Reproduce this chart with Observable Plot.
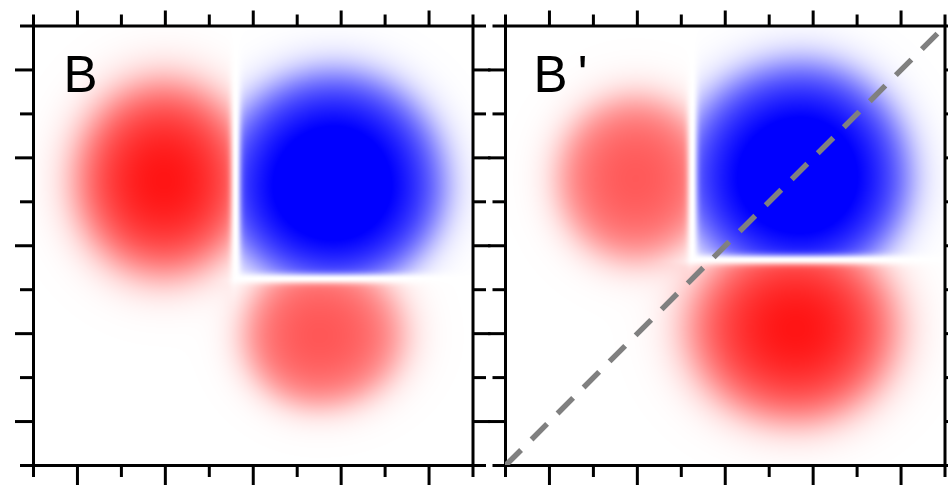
<!DOCTYPE html>
<html>
<head>
<meta charset="utf-8">
<script src="https://cdn.jsdelivr.net/npm/d3@7"></script>
<script src="https://cdn.jsdelivr.net/npm/@observablehq/plot@0.6"></script>
<style>
  html, body { margin: 0; padding: 0; background: #fff; overflow: hidden; }
  #chart { position: relative; width: 948px; height: 485px; }
  .panel { position: absolute; top: 0; }
</style>
</head>
<body>
<div id="chart"></div>
<script>
// Panel titles and the split lines (vertical x, horizontal y) of each panel
const panelTitles = ["B", "B\u2009'"];
const splitX = [4.6, 4.25];
const splitY = [4.25, 4.68];

// Field lobes: panel index, peak value, peak position, radii to each side,
// core falloff, edge softness, and which side of each split line it lives on
const lobePanel  = [0, 0, 0, 1, 1, 1];
const lobeAmp    = [0.92, -1.2, 0.66, 0.65, -1.2, 0.92];
const lobeX      = [2.96, 6.83, 6.50, 2.96, 6.71, 6.60];
const lobeY      = [6.47, 6.36, 2.95, 6.52, 6.55, 3.11];
const lobeLeft   = [2.10, 2.75, 1.75, 1.80, 2.85, 2.55];
const lobeRight  = [2.10, 2.62, 1.95, 1.80, 2.58, 2.40];
const lobeBottom = [2.25, 2.45, 1.65, 1.90, 2.52, 2.22];
const lobeTop    = [2.35, 2.70, 1.80, 1.90, 2.72, 2.25];
const lobeCore   = [0.50, 0.70, 0.35, 0.35, 0.70, 0.55];
const lobeEdge   = [0.14, 0.10, 0.14, 0.14, 0.10, 0.13];
const lobeSideX  = [-1, 1, 0, -1, 1, 0];
const lobeSideY  = [0, 1, -1, 0, 1, -1];

// Axis ticks and the reference diagonal
const tickValues = [0, 1, 2, 3, 4, 5, 6, 7, 8, 9, 10];
const diagonal = [[0, 0], [10, 10]];

const splitWidth = 0.12;

function sideMask(d) {
  if (d <= 0) return 0;
  const t = d / splitWidth;
  return 1 - Math.exp(-(t * t));
}

function field(p) {
  return (x, y) => {
    let v = 0;
    for (let i = 0; i < lobeAmp.length; ++i) {
      if (lobePanel[i] !== p) continue;
      const dx = x - lobeX[i], dy = y - lobeY[i];
      const u = dx / (dx < 0 ? lobeLeft[i] : lobeRight[i]);
      const w = dy / (dy < 0 ? lobeBottom[i] : lobeTop[i]);
      const rho = Math.hypot(u, w);
      const core = Math.exp(-lobeCore[i] * rho * rho);
      const edge = 1 / (1 + Math.exp((rho - 1) / lobeEdge[i]));
      let mask = 1;
      if (lobeSideX[i]) mask *= sideMask(lobeSideX[i] * (x - splitX[p]));
      if (lobeSideY[i]) mask *= sideMask(lobeSideY[i] * (y - splitY[p]));
      v += lobeAmp[i] * core * edge * mask;
    }
    return v;
  };
}

const evenTicks = tickValues.filter((t) => t % 2 === 0);
const oddTicks = tickValues.filter((t) => t % 2 === 1);

function axes(sizes) {
  const common = {fill: "none", label: null, stroke: "#000", strokeWidth: 3};
  return [
    Plot.axisX({...common, anchor: "top", ticks: evenTicks, tickSize: sizes.top[0]}),
    Plot.axisX({...common, anchor: "top", ticks: oddTicks, tickSize: sizes.top[1]}),
    Plot.axisX({...common, anchor: "bottom", ticks: evenTicks, tickSize: sizes.bottom[0]}),
    Plot.axisX({...common, anchor: "bottom", ticks: oddTicks, tickSize: sizes.bottom[1]}),
    Plot.axisY({...common, anchor: "left", ticks: evenTicks, tickSize: sizes.left[0]}),
    Plot.axisY({...common, anchor: "left", ticks: oddTicks, tickSize: sizes.left[1]}),
    Plot.axisY({...common, anchor: "right", ticks: evenTicks, tickSize: sizes.right[0]}),
    Plot.axisY({...common, anchor: "right", ticks: oddTicks, tickSize: sizes.right[1]})
  ];
}

function panel(p, {width, marginLeft, marginRight, left, sizes, dx}) {
  const marks = [
    Plot.raster({fill: field(p), x1: 0, x2: 10, y1: 0, y2: 10}),
    Plot.frame({stroke: "#000", strokeWidth: 3}),
    ...axes(sizes)
  ];
  if (p === 1) {
    marks.push(Plot.line(diagonal, {
      stroke: "#808080", strokeWidth: 5.5, strokeDasharray: "22,14.8",
      strokeLinecap: "butt", clip: true
    }));
  }
  marks.push(Plot.text([panelTitles[p]], {
    text: (d) => d, frameAnchor: "top-left", dx, dy: 30,
    fontSize: 51, fontFamily: "Liberation Sans, Arial, sans-serif", fill: "#000"
  }));
  const svg = Plot.plot({
    width, height: 485,
    marginTop: 25.5, marginBottom: 20, marginLeft, marginRight,
    x: {domain: [0, 10]},
    y: {domain: [0, 10]},
    color: {type: "linear", domain: [-1, 0, 1], range: ["#0000ff", "#ffffff", "#ff0000"], interpolate: "rgb", clamp: true},
    style: {background: "transparent", overflow: "visible", maxWidth: "none"},
    marks
  });
  const div = document.createElement("div");
  div.className = "panel";
  div.style.left = left + "px";
  div.style.width = width + "px";
  div.appendChild(svg);
  document.getElementById("chart").appendChild(div);
}

panel(0, {
  width: 490, marginLeft: 33, marginRight: 17.5, left: 0, dx: 30,
  sizes: {top: [12, 16], bottom: [12, 20], left: [13, 18], right: [12.5, 17]}
});
panel(1, {
  width: 461, marginLeft: 18, marginRight: 3.5, left: 487, dx: 28,
  sizes: {top: [12, 16], bottom: [12, 20], left: [12.5, 17], right: [12, 17]}
});
</script>
</body>
</html>
